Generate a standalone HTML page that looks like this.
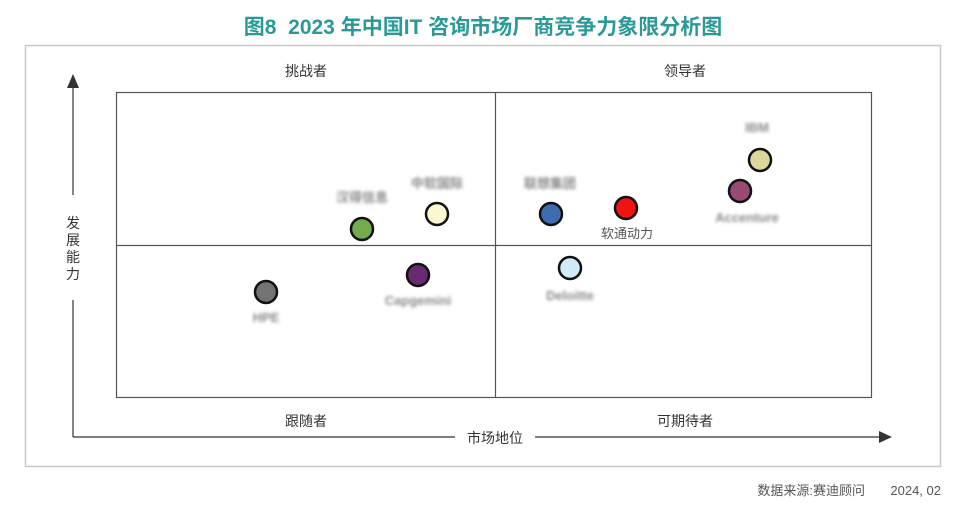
<!DOCTYPE html><html><head><meta charset="utf-8"><style>
body{margin:0;width:966px;height:506px;background:#fff;font-family:"Liberation Sans","Noto Sans CJK SC",sans-serif;}
</style></head><body>
<svg width="966" height="506" xmlns="http://www.w3.org/2000/svg" font-family="Liberation Sans, Noto Sans CJK SC, sans-serif">
<defs><filter id="b"><feGaussianBlur stdDeviation="1.6"/></filter></defs>
<text x="483" y="34" text-anchor="middle" font-size="21" font-weight="bold" fill="#2b9a97" xml:space="preserve">图8  2023 年中国IT 咨询市场厂商竞争力象限分析图</text>
<rect x="25.5" y="45.5" width="915" height="421" fill="none" stroke="#c8c8c8" stroke-width="1.5"/>
<rect x="116.5" y="92.5" width="755" height="305" fill="none" stroke="#555" stroke-width="1.2"/>
<line x1="495.5" y1="92" x2="495.5" y2="398" stroke="#555" stroke-width="1.2"/>
<line x1="116" y1="245.5" x2="872" y2="245.5" stroke="#555" stroke-width="1.2"/>
<line x1="73" y1="437" x2="73" y2="300" stroke="#333" stroke-width="1.2"/>
<line x1="73" y1="195" x2="73" y2="85" stroke="#333" stroke-width="1.2"/>
<polygon points="73,74 67,88 79,88" fill="#333"/>
<line x1="73" y1="437" x2="455" y2="437" stroke="#333" stroke-width="1.2"/>
<line x1="535" y1="437" x2="880" y2="437" stroke="#333" stroke-width="1.2"/>
<polygon points="892,437 879,431 879,443" fill="#333"/>
<g font-size="14" fill="#333" text-anchor="middle">
<text x="306" y="76">挑战者</text><text x="685" y="76">领导者</text>
<text x="306" y="426">跟随者</text><text x="685" y="426">可期待者</text>
<text x="495" y="443">市场地位</text>
<text x="73" y="228">发</text><text x="73" y="245">展</text><text x="73" y="262">能</text><text x="73" y="279">力</text>
</g>
<g font-size="13" fill="#8a8a8a" text-anchor="middle" filter="url(#b)" font-weight="bold">
<text x="757" y="132">IBM</text><text x="747" y="222">Accenture</text>
<text x="362" y="202">汉得信息</text><text x="437" y="188">中软国际</text>
<text x="550" y="188">联想集团</text><text x="570" y="300">Deloitte</text>
<text x="418" y="305">Capgemini</text><text x="266" y="322">HPE</text>
</g>
<text x="627" y="238" font-size="13" fill="#555" text-anchor="middle">软通动力</text>
<g stroke="#111" stroke-width="2.5">
<circle cx="760" cy="160" r="11" fill="#ddd89a"/>
<circle cx="740" cy="191" r="11" fill="#974a72"/>
<circle cx="626" cy="208" r="11" fill="#f01414"/>
<circle cx="551" cy="214" r="11" fill="#3f6cb0"/>
<circle cx="437" cy="214" r="11" fill="#fbf7d2"/>
<circle cx="362" cy="229" r="11" fill="#72ac4c"/>
<circle cx="418" cy="275" r="11" fill="#6a2a72"/>
<circle cx="570" cy="268" r="11" fill="#d2ebf4"/>
<circle cx="266" cy="292" r="11" fill="#737373"/>
</g>
<text x="865" y="495" font-size="13" fill="#555" text-anchor="end">数据来源:赛迪顾问</text>
<text x="941" y="495" font-size="13" fill="#555" text-anchor="end">2024, 02</text>
</svg></body></html>
